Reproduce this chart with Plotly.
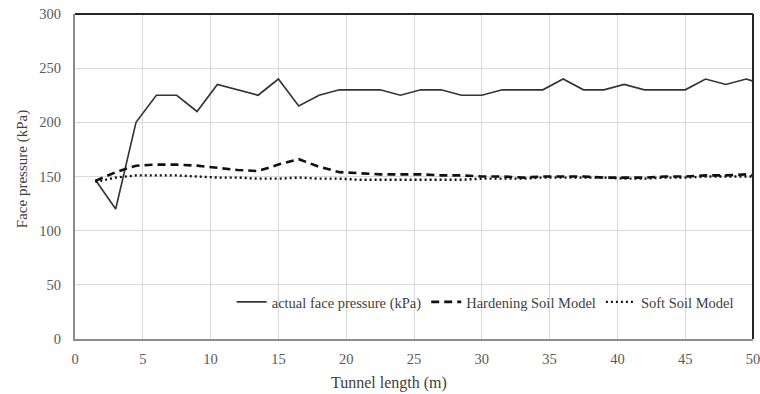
import plotly.graph_objects as go

tunnel_length = [1.5, 3, 4.5, 6, 7.5, 9, 10.5, 12, 13.5, 15, 16.5, 18, 19.5, 21, 22.5, 24,
                 25.5, 27, 28.5, 30, 31.5, 33, 34.5, 36, 37.5, 39, 40.5, 42, 43.5, 45,
                 46.5, 48, 49.5, 50]
actual_pressure = [147, 120, 200, 225, 225, 210, 235, 230, 225, 240, 215, 225, 230, 230, 230, 225,
                   230, 230, 225, 225, 230, 230, 230, 240, 230, 230, 235, 230, 230, 230,
                   240, 235, 240, 238]
hardening_soil = [146, 154, 160, 161, 161, 160, 158, 156, 155, 161, 166, 159, 154, 153, 152, 152,
                  152, 151, 151, 150, 150, 149, 150, 150, 150, 149, 149, 149, 150, 150,
                  151, 151, 152, 151]
soft_soil = [145, 149, 151, 151, 151, 150, 149, 149, 148, 148, 149, 148, 148, 147, 147, 147,
             147, 147, 147, 148, 148, 148, 149, 149, 149, 149, 148, 148, 149, 149,
             150, 150, 150, 150]

FONT = "Liberation Serif, Times New Roman, DejaVu Serif, serif"

fig = go.Figure()
fig.add_trace(go.Scatter(x=tunnel_length, y=actual_pressure, mode="lines",
                         name="actual face pressure (kPa)",
                         line=dict(color="#333333", width=1.6)))
fig.add_trace(go.Scatter(x=tunnel_length, y=hardening_soil, mode="lines",
                         name="Hardening Soil Model",
                         line=dict(color="#111111", width=2.6, dash="8px,5px")))
fig.add_trace(go.Scatter(x=tunnel_length, y=soft_soil, mode="lines",
                         name="Soft Soil Model",
                         line=dict(color="#111111", width=2.4, dash="2px,3px")))

fig.update_layout(
    width=760, height=394,
    margin=dict(l=75, r=7, t=14, b=55, autoexpand=False),
    paper_bgcolor="white", plot_bgcolor="white",
    font=dict(family=FONT, size=14.5, color="#595959"),
    showlegend=True,
    legend=dict(orientation="h", x=0.605, xanchor="center", y=0.114, yanchor="middle",
                bgcolor="rgba(0,0,0,0)", font=dict(family=FONT, size=14.5, color="#404040"),
                itemwidth=30, tracegroupgap=0),
    xaxis=dict(range=[0, 50], tick0=0, dtick=5, showgrid=True, gridcolor="#d9d9d9",
               gridwidth=1, showline=True, linecolor="#8c8c8c", linewidth=2,
               ticks="", zeroline=False, ticklabelstandoff=6, ticklabeloverflow="allow",
               automargin=False,
               tickfont=dict(family=FONT, size=14.5, color="#595959")),
    yaxis=dict(range=[0, 300], tick0=0, dtick=50, showgrid=True, gridcolor="#d9d9d9",
               gridwidth=1, showline=True, linecolor="#8c8c8c", linewidth=2,
               ticks="", zeroline=False, ticklabelstandoff=9, automargin=False,
               tickfont=dict(family=FONT, size=14.5, color="#595959")),
    shapes=[
        dict(type="line", xref="paper", yref="paper", x0=0, x1=1, y0=1, y1=1,
             line=dict(color="#262626", width=2)),
        dict(type="line", xref="paper", yref="paper", x0=1, x1=1, y0=0, y1=1,
             line=dict(color="#262626", width=2)),
    ],
    annotations=[
        dict(text="Tunnel length (m)", xref="paper", yref="paper", x=0.463, y=-0.135,
             xanchor="center", yanchor="middle", showarrow=False,
             font=dict(family=FONT, size=16, color="#404040")),
        dict(text="Face pressure (kPa)", xref="paper", yref="paper", x=-0.078, y=0.523,
             xanchor="center", yanchor="middle", textangle=-90, showarrow=False,
             font=dict(family=FONT, size=15, color="#404040")),
    ],
)

fig.write_html("out.html")
